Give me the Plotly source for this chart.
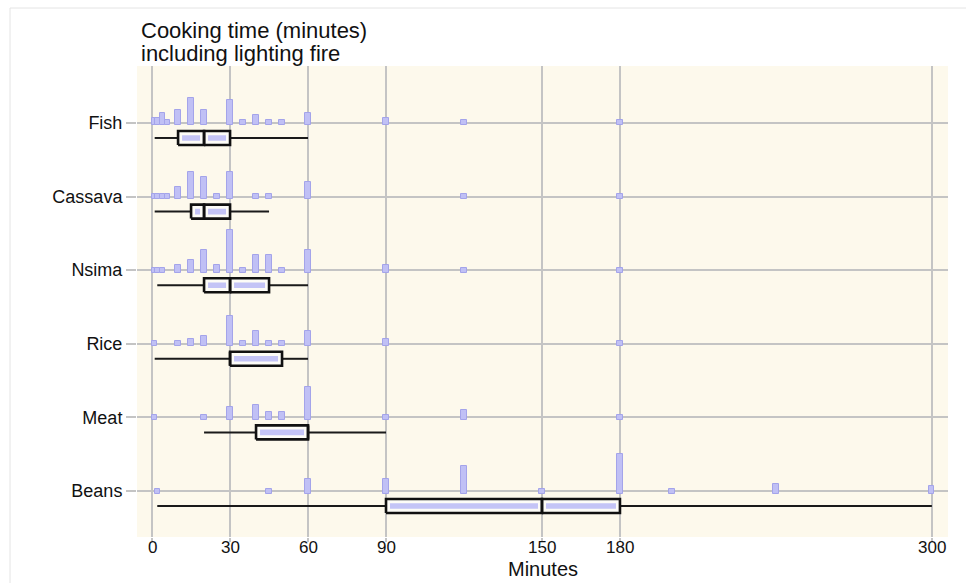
import plotly.graph_objects as go

# ---------------- data ----------------
categories = ["Beans", "Meat", "Rice", "Nsima", "Cassava", "Fish"]
tick_minutes = [0, 30, 60, 90, 150, 180, 300]

# frequency spikes (minutes value, count) per food
beans_minutes = [2, 45, 60, 90, 120, 150, 180, 200, 240, 300]
beans_counts = [1, 1, 5, 5, 10, 1, 15, 1, 3, 2]
meat_minutes = [1, 20, 30, 40, 45, 50, 60, 90, 120, 180]
meat_counts = [1, 1, 4, 5, 2, 2, 12, 1, 3, 1]
rice_minutes = [1, 10, 15, 20, 30, 35, 40, 45, 50, 60, 90, 180]
rice_counts = [1, 1, 2, 3, 11, 1, 5, 1, 1, 5, 2, 1]
nsima_minutes = [1, 2, 4, 10, 15, 20, 25, 30, 35, 40, 45, 50, 60, 90, 120, 180]
nsima_counts = [1, 1, 1, 2, 4, 8, 2, 16, 1, 6, 6, 1, 8, 2, 1, 1]
cassava_minutes = [1, 2, 4, 6, 10, 15, 20, 25, 30, 40, 45, 60, 120, 180]
cassava_counts = [1, 1, 1, 1, 4, 10, 8, 1, 10, 1, 1, 6, 1, 1]
fish_minutes = [1, 2, 4, 6, 10, 15, 20, 30, 35, 40, 45, 50, 60, 90, 120, 180]
fish_counts = [2, 2, 4, 1, 5, 10, 5, 9, 1, 3, 1, 1, 4, 2, 1, 1]

# box-plot statistics (same order as categories)
box_min = [2, 20, 1, 2, 1, 1]
box_q1 = [90, 40, 30, 20, 15, 10]
box_median = [150, 60, 30, 30, 20, 20]
box_q3 = [180, 60, 50, 45, 30, 30]
box_max = [300, 90, 60, 60, 45, 60]

spike_minutes = [beans_minutes, meat_minutes, rice_minutes, nsima_minutes, cassava_minutes, fish_minutes]
spike_counts = [beans_counts, meat_counts, rice_counts, nsima_counts, cassava_counts, fish_counts]

# ---------------- style ----------------
W, H = 966, 583
ML, MR, MT, MB = 137, 18, 66, 46
PW, PH = W - ML - MR, H - MT - MB
XR = [-5.8, 306.2]
YR = [-0.625, 5.774]
PX_PER_Y = PH / (YR[1] - YR[0])
PX_PER_X = PW / (XR[1] - XR[0])

UNIT = 2.5 / PX_PER_Y          # y-units per count
BAR_W = 2.0                     # minutes
BOX_OFF = 15.0 / PX_PER_Y
BOX_HH = 7.0 / PX_PER_Y
IN_HH = 2.8 / PX_PER_Y
IN_DX = 4.0 / PX_PER_X

SPIKE_FILL = "#c0c0f5"
SPIKE_LINE = "#a4a4ea"
GRID = "#c4c4c4"
BG = "#fdf9ec"
FONT = "Liberation Sans, Arial, sans-serif"
NARROW = "Liberation Sans Narrow, Arial Narrow, Liberation Sans, Arial, sans-serif"

fig = go.Figure()

# frequency spikes
for i, (mins, cnts) in enumerate(zip(spike_minutes, spike_counts)):
    fig.add_trace(go.Bar(
        x=mins,
        y=[(c + 1) * UNIT for c in cnts],
        base=[i - UNIT] * len(mins),
        width=BAR_W,
        marker=dict(color=SPIKE_FILL, line=dict(color=SPIKE_LINE, width=1)),
        hoverinfo="skip", showlegend=False,
    ))

# whiskers
wx, wy = [], []
for i in range(len(categories)):
    yc = i - BOX_OFF
    wx += [box_min[i], box_q1[i], None, box_q3[i], box_max[i], None]
    wy += [yc, yc, None, yc, yc, None]
fig.add_trace(go.Scatter(x=wx, y=wy, mode="lines", line=dict(color="#1a1a1a", width=2),
                         hoverinfo="skip", showlegend=False))

# boxes (two halves, outlined) + inner lavender fill
ox, oy, ix, iy = [], [], [], []
for i in range(len(categories)):
    yc = i - BOX_OFF
    for a, b in [(box_q1[i], box_median[i]), (box_median[i], box_q3[i])]:
        ox += [a, b, b, a, a, None]
        oy += [yc - BOX_HH, yc - BOX_HH, yc + BOX_HH, yc + BOX_HH, yc - BOX_HH, None]
        if b - a > 2.5 * IN_DX:
            ix += [a + IN_DX, b - IN_DX, b - IN_DX, a + IN_DX, a + IN_DX, None]
            iy += [yc - IN_HH, yc - IN_HH, yc + IN_HH, yc + IN_HH, yc - IN_HH, None]
fig.add_trace(go.Scatter(x=ox, y=oy, mode="lines", fill="toself", fillcolor="#fdfcf7",
                         line=dict(color="#111111", width=2.6), hoverinfo="skip", showlegend=False))
fig.add_trace(go.Scatter(x=ix, y=iy, mode="lines", fill="toself", fillcolor="#c4c4f6",
                         line=dict(color="#c4c4f6", width=0), hoverinfo="skip", showlegend=False))


def py(px_from_top):
    return (H - MB - px_from_top) / PH


def pxx(px_from_left):
    return (px_from_left - ML) / PW


annotations = [
    dict(text="Cooking time (minutes)", x=pxx(139), y=py(30), xref="paper", yref="paper",
         xanchor="left", yanchor="middle", showarrow=False, font=dict(family=FONT, size=22, color="#111")),
    dict(text="including lighting fire", x=pxx(139), y=py(53), xref="paper", yref="paper",
         xanchor="left", yanchor="middle", showarrow=False, font=dict(family=FONT, size=22, color="#111")),
    dict(text="Minutes", x=pxx(543), y=py(569), xref="paper", yref="paper",
         xanchor="center", yanchor="middle", showarrow=False, font=dict(family=FONT, size=20, color="#111")),
]
# x tick labels placed at the tick values on the x axis
for v in tick_minutes:
    annotations.append(dict(text=str(v), x=v, xref="x", y=py(547), yref="paper",
                            xanchor="center", yanchor="middle", showarrow=False,
                            font=dict(family=NARROW, size=17, color="#111")))

shapes = [
    dict(type="line", xref="paper", yref="paper", x0=pxx(10), x1=pxx(W), y0=py(8), y1=py(8),
         line=dict(color="#e4e4e4", width=1)),
    dict(type="line", xref="paper", yref="paper", x0=pxx(10), x1=pxx(10), y0=py(8), y1=py(H),
         line=dict(color="#e4e4e4", width=1)),
]

fig.update_layout(
    width=W, height=H,
    margin=dict(l=ML, r=MR, t=MT, b=MB, pad=0, autoexpand=False),
    paper_bgcolor="white", plot_bgcolor=BG,
    barmode="overlay", bargap=0,
    showlegend=False,
    annotations=annotations, shapes=shapes,
    xaxis=dict(range=XR, tickvals=tick_minutes, showticklabels=False,
               automargin=False,
               showgrid=True, gridcolor=GRID, gridwidth=1.5, zeroline=False, showline=False,
               ticks="outside", ticklen=4, tickcolor=GRID, tickwidth=1.5),
    yaxis=dict(range=YR, tickvals=list(range(len(categories))), ticktext=categories,
               automargin=False,
               showgrid=True, gridcolor=GRID, gridwidth=1.5, zeroline=False, showline=False,
               ticks="outside", ticklen=10, tickcolor=GRID, tickwidth=1.5,
               tickfont=dict(family=FONT, size=18, color="#111")),
)

fig.write_html("out.html", config={"displayModeBar": False},
               post_script="document.body.style.margin='0';")
